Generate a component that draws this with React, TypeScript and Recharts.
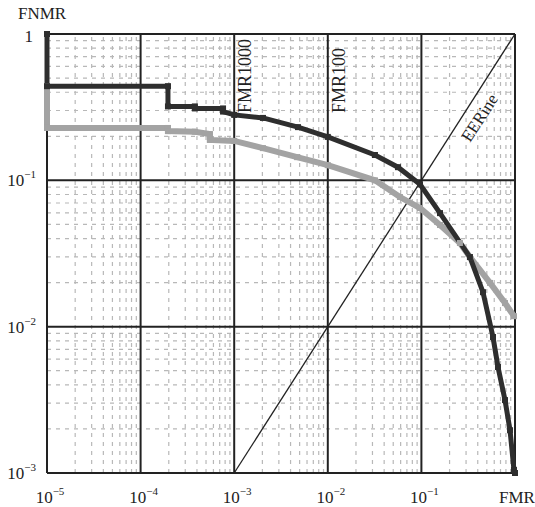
import { LineChart, Line, XAxis, YAxis, ReferenceLine, ReferenceDot } from 'recharts'

// FMR / FNMR readings for the two DET curves
const blackFmr = [1e-5, 1e-5, 1.96e-4, 1.96e-4, 3.8e-4, 3.8e-4, 7.6e-4, 7.6e-4, 1e-3, 2.03e-3, 4.8e-3, 1e-2, 0.0319, 0.0562, 0.0966, 0.158, 0.33, 0.455, 0.582, 0.658, 0.782, 0.885, 0.975, 1]
const blackFnmr = [1, 0.44, 0.44, 0.32, 0.32, 0.31, 0.31, 0.295, 0.28, 0.267, 0.231, 0.198, 0.149, 0.123, 0.094, 0.0597, 0.0299, 0.0172, 0.0085, 0.0053, 0.00315, 0.00196, 0.00105, 0.001]
const grayFmr = [1e-5, 1e-5, 1.96e-4, 1.96e-4, 3.8e-4, 5.5e-4, 5.5e-4, 1e-3, 2.03e-3, 4.7e-3, 1e-2, 0.0319, 0.059, 0.0966, 0.158, 0.258, 0.33, 0.541, 0.782, 0.975]
const grayFnmr = [0.44, 0.228, 0.228, 0.217, 0.215, 0.207, 0.189, 0.186, 0.166, 0.144, 0.127, 0.1, 0.0769, 0.0647, 0.0495, 0.0373, 0.0299, 0.0199, 0.0145, 0.0118]

const xTicks = [1e-5, 1e-4, 1e-3, 1e-2, 1e-1, 1]
const yTicks = [1e-3, 1e-2, 1e-1, 1]
const minorSteps = [2, 3, 4, 5, 6, 7, 8, 9]
const eerLine = [{ x: 1e-3, y: 1e-3 }, { x: 1, y: 1 }]

const blackData = blackFmr.map((x, i) => ({ x, y: blackFnmr[i] }))
const grayData = grayFmr.map((x, i) => ({ x, y: grayFnmr[i] }))
const minorX = xTicks.slice(0, -1).flatMap((d) => minorSteps.map((m) => m * d))
const minorY = yTicks.slice(0, -1).flatMap((d) => minorSteps.map((m) => m * d))

const FONT = '"Liberation Serif", "Times New Roman", serif'

function XTick({ x, y, payload }: any) {
  const v = payload.value
  if (v === 1) {
    return <text x={x + 2} y={y + 28} textAnchor="middle" fontFamily={FONT} fontSize={17} fill="#222">FMR</text>
  }
  const e = Math.round(Math.log10(v))
  return (
    <text x={x + 3} y={y + 28} textAnchor="middle" fontFamily={FONT} fontSize={17} fill="#222">
      10<tspan dy={-8} fontSize={11}>{'\u2212' + -e}</tspan>
    </text>
  )
}

function YTick({ x, y, payload }: any) {
  const v = payload.value
  if (v === 1) {
    return <text x={x - 12} y={y + 8} textAnchor="end" fontFamily={FONT} fontSize={17} fill="#222">1</text>
  }
  const e = Math.round(Math.log10(v))
  return (
    <text x={x - 9} y={y + 6} textAnchor="end" fontFamily={FONT} fontSize={17} fill="#222">
      10<tspan dy={-8} fontSize={11}>{'\u2212' + -e}</tspan>
    </text>
  )
}

function Square({ cx, cy, stroke }: any) {
  if (cx == null || cy == null) return null
  return <rect x={cx - 3} y={cy - 3} width={6} height={6} fill={stroke} />
}

function vLabel(text: string) {
  return ({ viewBox }: any) => (
    <text
      x={viewBox.x + 17}
      y={viewBox.y + 79}
      transform={`rotate(-90 ${viewBox.x + 17} ${viewBox.y + 79})`}
      fontFamily={FONT}
      fontSize={18}
      fill="#222"
    >
      {text}
    </text>
  )
}

function EerLabel({ viewBox }: any) {
  const cx = viewBox.x + viewBox.width / 2
  const cy = viewBox.y + viewBox.height / 2
  return (
    <text
      x={cx}
      y={cy}
      textAnchor="middle"
      dominantBaseline="central"
      transform={`rotate(-57 ${cx} ${cy})`}
      fontFamily={FONT}
      fontSize={17}
      fill="#222"
    >
      EERine
    </text>
  )
}

export default function App() {
  return (
    <div style={{ position: 'absolute', left: 0, top: 0, background: '#fff' }}>
      <LineChart width={535} height={507} margin={{ top: 34, right: 20, bottom: 4, left: 7 }}>
        <XAxis
          dataKey="x"
          type="number"
          scale="log"
          domain={[1e-5, 1]}
          ticks={xTicks}
          axisLine={false}
          tickLine={false}
          tickSize={0}
          height={30}
          tick={<XTick />}
        />
        <YAxis
          dataKey="y"
          type="number"
          scale="log"
          domain={[1e-3, 1]}
          ticks={yTicks}
          axisLine={false}
          tickLine={false}
          tickSize={0}
          width={40}
          tick={<YTick />}
          label={{
            content: () => (
              <text x={18} y={19} fontFamily={FONT} fontSize={17} fill="#222">FNMR</text>
            ),
          }}
        />
        {minorX.map((v) => (
          <ReferenceLine key={'mx' + v} x={v} stroke="#b8b8b8" strokeWidth={1.2} strokeDasharray="4 5" />
        ))}
        {minorY.map((v) => (
          <ReferenceLine key={'my' + v} y={v} stroke="#b8b8b8" strokeWidth={1.2} strokeDasharray="4 5" />
        ))}
        {xTicks.map((v) => (
          <ReferenceLine
            key={'x' + v}
            x={v}
            stroke="#222"
            strokeWidth={2}
            label={v === 1e-3 ? vLabel('FMR1000') : v === 1e-2 ? vLabel('FMR100') : undefined}
          />
        ))}
        {yTicks.map((v) => (
          <ReferenceLine key={'y' + v} y={v} stroke="#222" strokeWidth={2} />
        ))}
        <ReferenceLine segment={eerLine} stroke="#222" strokeWidth={1.3} />
        <ReferenceDot x={0.42} y={0.267} r={0} stroke="none" fill="none" label={<EerLabel />} />
        <Line
          data={grayData}
          dataKey="y"
          type="linear"
          stroke="#a3a3a3"
          strokeWidth={6}
          dot={<Square />}
          isAnimationActive={false}
        />
        <Line
          data={blackData}
          dataKey="y"
          type="linear"
          stroke="#2e2e2e"
          strokeWidth={5}
          dot={<Square />}
          isAnimationActive={false}
        />
      </LineChart>
    </div>
  )
}
